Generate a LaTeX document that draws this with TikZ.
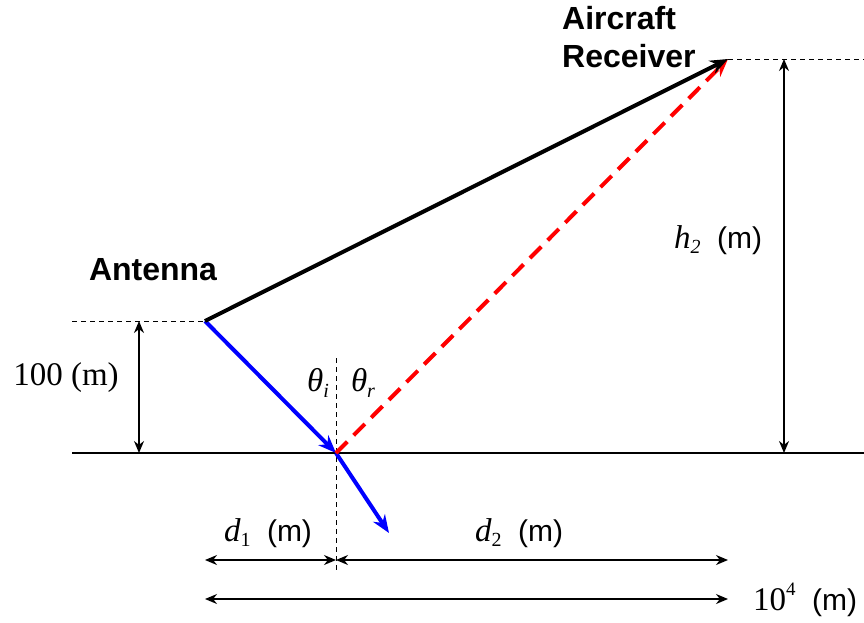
\documentclass[tikz,border=0pt]{standalone}
\usepackage{fontspec}
\setmainfont{Liberation Serif}
\setsansfont{Liberation Sans}
\usetikzlibrary{arrows.meta}
\newcommand{\lowidx}[1]{\raisebox{-0.35ex}{\fontsize{20}{20}\selectfont #1}}
\newcommand{\highidx}[1]{\raisebox{1.0ex}{\fontsize{19}{19}\selectfont #1}}
\newcommand{\unitm}{\sffamily\upshape\fontsize{30}{33}\selectfont(m)}
\begin{document}
\begin{tikzpicture}[x=1pt,y=-1pt]
\useasboundingbox (0,0) rectangle (864,622);
\tikzset{
  ray/.style={line width=4pt, -{Stealth[length=18pt,width=14pt]}},
  dim/.style={line width=1.4pt, {Stealth[length=12pt,width=10pt]}-{Stealth[length=12pt,width=10pt]}},
  helper/.style={line width=1pt, dash pattern=on 5pt off 4pt},
  bigsans/.style={font=\sffamily\bfseries\fontsize{32}{38}\selectfont, inner sep=0pt},
  lbl/.style={font=\fontsize{33}{36}\selectfont, inner sep=0pt}
}
% geometry
\coordinate (ant) at (205,321);
\coordinate (rcv) at (728,59);
\coordinate (refl) at (336,453);
\coordinate (tip) at (389,533);
\coordinate (gndL) at (72,453);
\coordinate (gndR) at (864,453);
\coordinate (antL) at (72,321);
\coordinate (rcvR) at (864,59);
\coordinate (normT) at (336,358);
\coordinate (normB) at (336,572);
\coordinate (hA) at (139,321);
\coordinate (hAb) at (139,453);
\coordinate (hR) at (784,59);
\coordinate (hRb) at (784,453);
\coordinate (d1L) at (205,560);
\coordinate (d1R) at (336,560);
\coordinate (d2R) at (728,560);
\coordinate (totL) at (205,599);
\coordinate (totR) at (728,599);

% ground and guide lines
\draw[line width=1.5pt] (gndL) -- (gndR);
\draw[helper] (antL) -- (ant);
\draw[helper] (rcv) -- (rcvR);
\draw[helper] (normT) -- (normB);

% rays
\draw[ray, blue] (ant) -- (refl);
\draw[ray, blue] (refl) -- (tip);
\draw[ray, red, dash pattern=on 16pt off 9pt] (refl) -- (rcv);
\draw[ray, black] (ant) -- (rcv);

% dimensions
\draw[dim] (hA) -- (hAb);
\draw[dim] (hR) -- (hRb);
\draw[dim] (d1L) -- (d1R);
\draw[dim] (d1R) -- (d2R);
\draw[dim] (totL) -- (totR);

% labels
\node[bigsans] (antlbl) at (153,270) {Antenna};
\node[bigsans, anchor=north west, align=left] (rcvlbl) at (562,6) {Aircraft\\Receiver};
\node[lbl] (hlbl) at (66,378) {100\ (m)};
\node[lbl] (h2lbl) at (718,240) {\itshape h\lowidx{2}\ \ \unitm};
\node[lbl] (thi) at (318,383) {\itshape θ\lowidx{i}};
\node[lbl] (thr) at (363,383) {\itshape θ\lowidx{r}};
\node[lbl] (d1lbl) at (268,533) {\itshape d\lowidx{\upshape 1}\ \ \unitm};
\node[lbl] (d2lbl) at (519,533) {\itshape d\lowidx{\upshape 2}\ \ \unitm};
\node[lbl] (totlbl) at (805,600) {10\highidx{4}\ \ \unitm};
\end{tikzpicture}
\end{document}
